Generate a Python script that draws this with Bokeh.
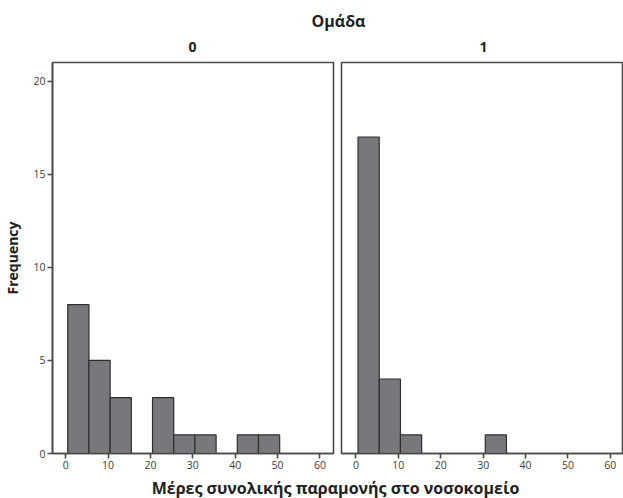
from bokeh.plotting import figure
from bokeh.layouts import column, row
from bokeh.models import Range1d, Label, FixedTicker, ColumnDataSource
from bokeh.embed import file_html
from bokeh.resources import INLINE

# ---- data ----
bin_left = [0.5, 5.5, 10.5, 15.5, 20.5, 25.5, 30.5, 35.5, 40.5, 45.5]
bin_width = 5
counts_0 = [8, 5, 3, 0, 3, 1, 1, 0, 1, 1]
counts_1 = [17, 4, 1, 0, 0, 0, 1, 0, 0, 0]
groups = ["0", "1"]
x_ticks = [0, 10, 20, 30, 40, 50, 60]
y_ticks = [0, 5, 10, 15, 20]
title_text = "Ομάδα"
x_label = "Μέρες συνολικής παραμονής στο νοσοκομείο"
y_label = "Frequency"

FONT = "Open Sans"
BAR_FILL = "#78787c"
BAR_LINE = "#2e2e2e"
FRAME = "#4a4a4a"

W = 623
HEAD_H = 55
FOOT_H = 20
PANEL_H = 423


def make_panel(counts, width, left_border, right_border, show_y, x_start, x_end):
    p = figure(width=width, height=PANEL_H, output_backend="svg", toolbar_location=None,
               title=None,
               x_range=Range1d(x_start, x_end), y_range=Range1d(0, 21),
               min_border_left=left_border, min_border_right=right_border,
               min_border_top=7, min_border_bottom=25)
    p.xgrid.visible = False
    p.ygrid.visible = False
    p.outline_line_color = FRAME
    p.outline_line_width = 1.6
    p.background_fill_color = "white"
    p.border_fill_color = "white"

    lefts = [l for l, c in zip(bin_left, counts) if c > 0]
    tops = [c for c in counts if c > 0]
    src = ColumnDataSource(dict(left=lefts, right=[l + bin_width for l in lefts], top=tops))
    p.quad(left="left", right="right", top="top", bottom=0, source=src,
           fill_color=BAR_FILL, line_color=BAR_LINE, line_width=1.2)

    xa = p.xaxis[0]
    xa.ticker = FixedTicker(ticks=x_ticks)
    xa.major_tick_out = 5
    xa.major_tick_in = 0
    xa.minor_tick_out = 0
    xa.minor_tick_in = 0
    xa.major_label_standoff = 2
    xa.major_label_text_font = FONT
    xa.major_label_text_font_size = "10.5px"
    xa.major_label_text_color = "#3c3c3c"
    xa.axis_line_color = FRAME
    xa.axis_line_width = 1.6
    xa.major_tick_line_color = FRAME
    xa.major_tick_line_width = 1.6

    ya = p.yaxis[0]
    if show_y:
        ya.ticker = FixedTicker(ticks=y_ticks)
        ya.major_tick_out = 5
        ya.major_tick_in = 0
        ya.minor_tick_out = 0
        ya.minor_tick_in = 0
        ya.major_label_standoff = 2
        ya.major_label_text_font = FONT
        ya.major_label_text_font_size = "10.5px"
        ya.major_label_text_color = "#3c3c3c"
        ya.axis_line_color = FRAME
        ya.axis_line_width = 1.6
        ya.major_tick_line_color = FRAME
        ya.major_tick_line_width = 1.6
        ya.axis_label = y_label
        ya.axis_label_text_font = FONT
        ya.axis_label_text_font_style = "bold"
        ya.axis_label_text_font_size = "14px"
        ya.axis_label_text_color = "#222222"
        ya.axis_label_standoff = 8
    else:
        ya.visible = False
    return p


P0_W = 337
p0 = make_panel(counts_0, P0_W, 52, 4, True, -3.1, 63.2)
p1 = make_panel(counts_1, W - P0_W, 4, 0, False, -3.4, 63.1)


def text_strip(height):
    f = figure(width=W, height=height, output_backend="svg", toolbar_location=None,
               title=None,
               x_range=Range1d(0, W), y_range=Range1d(0, height),
               min_border=0, min_border_left=0, min_border_right=0,
               min_border_top=0, min_border_bottom=0)
    f.axis.visible = False
    f.grid.visible = False
    f.outline_line_color = None
    return f


def add_text(f, text, tx, ty, size):
    f.add_layout(Label(x=tx, y=ty, text=text, text_font=FONT, text_font_style="bold",
                       text_font_size=size, text_color="#222222",
                       text_align="center", text_baseline="middle"))


head = text_strip(HEAD_H)
add_text(head, title_text, 338, 35, "16px")
add_text(head, groups[0], 192, 9, "14px")
add_text(head, groups[1], 483, 9, "14px")

foot = text_strip(FOOT_H)
add_text(foot, x_label, 335, 11, "16px")

layout = column(head, row(p0, p1, spacing=0), foot, spacing=0)

open("out.html", "w").write(file_html(layout, INLINE))
